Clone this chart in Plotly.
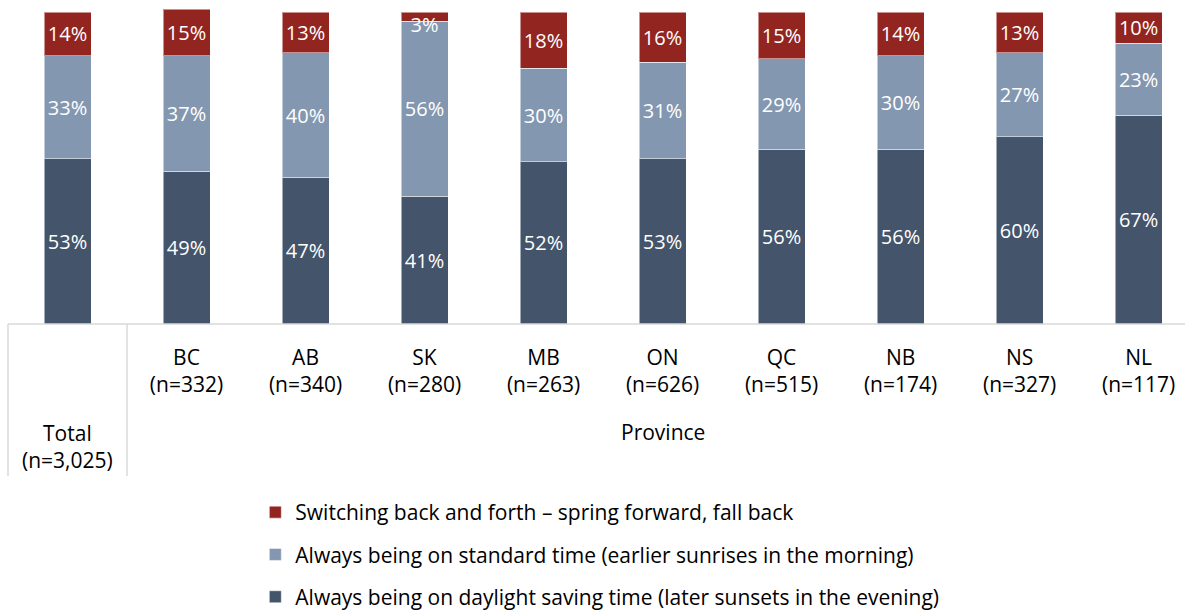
import plotly.graph_objects as go

categories = ["Total", "BC", "AB", "SK", "MB", "ON", "QC", "NB", "NS", "NL"]
sample_sizes = ["3,025", "332", "340", "280", "263", "626", "515", "174", "327", "117"]
dst = [53, 49, 47, 41, 52, 53, 56, 56, 60, 67]
standard = [33, 37, 40, 56, 30, 31, 29, 30, 27, 23]
switching = [14, 15, 13, 3, 18, 16, 15, 14, 13, 10]
group_label = "Province"

series_names = [
    "Always being on daylight saving time (later sunsets in the evening)",
    "Always being on standard time (earlier sunrises in the morning)",
    "Switching back and forth \u2013 spring forward, fall back",
]
colors = ["#44546A", "#8497B0", "#922520"]
legend_ranks = [3, 2, 1]

FONT = "Open Sans"
W, H = 1185, 611
ML, MR, MT, MB = 8, 0, 9, 287
plot_h = H - MT - MB
SMALL = 5  # segments smaller than this get their label hung just under the top

def py(p):
    return 1 - (p - MT) / plot_h

x = list(range(len(categories)))
ticktext = [""] + [c + "<br>(n=" + n + ")" for c, n in zip(categories[1:], sample_sizes[1:])]

fig = go.Figure()
all_vals = [dst, standard, switching]
for k, (name, vals, col, rk) in enumerate(zip(series_names, all_vals, colors, legend_ranks)):
    labels = [f"{v}%" if v >= SMALL else "" for v in vals]
    fig.add_trace(go.Bar(
        x=x, y=vals, name=name, width=0.395,
        marker=dict(color=col, line=dict(color="rgba(255,255,255,0.5)", width=1)),
        text=labels, textposition="inside",
        insidetextanchor="middle", textangle=0,
        textfont=dict(family=FONT, size=20, color="white"),
        legendgroup=name, legendrank=rk, hoverinfo="name+y",
    ))

# labels for very small segments, anchored at the segment's centre and hung below it
sx, sy, st = [], [], []
for i in x:
    base = 0
    for vals in all_vals:
        v = vals[i]
        if v < SMALL:
            sx.append(i)
            sy.append(base + v / 2)
            st.append(f"{v}%")
        base += v
fig.add_trace(go.Scatter(
    x=sx, y=sy, text=st, mode="text", textposition="bottom center",
    textfont=dict(family=FONT, size=20, color="white"),
    showlegend=False, hoverinfo="skip", cliponaxis=False,
))

shapes = [
    dict(type="line", xref="paper", yref="paper", x0=0, x1=1, y0=0, y1=0,
         line=dict(color="#D9D9D9", width=1.5)),
    dict(type="line", xref="paper", yref="paper", x0=0, x1=0, y0=0, y1=py(476),
         line=dict(color="#D9D9D9", width=1.5)),
    dict(type="line", xref="x", yref="paper", x0=0.5, x1=0.5, y0=0, y1=py(476),
         line=dict(color="#D9D9D9", width=1.5)),
]

annotations = [
    dict(text=group_label, x=5, xref="x", y=py(432), yref="paper", yanchor="middle",
         showarrow=False, font=dict(family=FONT, size=21, color="#000")),
    dict(text=categories[0] + "<br>(n=" + sample_sizes[0] + ")", x=0, xref="x",
         y=py(446), yref="paper", yanchor="middle",
         showarrow=False, font=dict(family=FONT, size=21, color="#000")),
]

fig.update_layout(
    width=W, height=H,
    margin=dict(l=ML, r=MR, t=MT, b=MB, autoexpand=False),
    barmode="stack",
    plot_bgcolor="white", paper_bgcolor="white",
    font=dict(family=FONT, size=21, color="#000000"),
    uniformtext=dict(mode="show", minsize=20),
    xaxis=dict(range=[-0.5, 9.39], tickvals=x, ticktext=ticktext,
               showgrid=False, zeroline=False, showline=False, ticks="",
               tickfont=dict(family=FONT, size=21, color="#000"),
               ticklabelstandoff=19, automargin=False),
    yaxis=dict(range=[0, 101], visible=False),
    showlegend=True,
    legend=dict(traceorder="grouped", tracegroupgap=12,
                x=249 / W, xanchor="left", y=py(492), yanchor="top",
                yref="paper", xref="paper",
                font=dict(family=FONT, size=21, color="#000"),
                itemclick=False),
    shapes=shapes,
    annotations=annotations,
)

fig.write_html("out.html", config={"displayModeBar": False},
               post_script="document.body.style.margin='0';document.body.style.overflow='hidden';")
